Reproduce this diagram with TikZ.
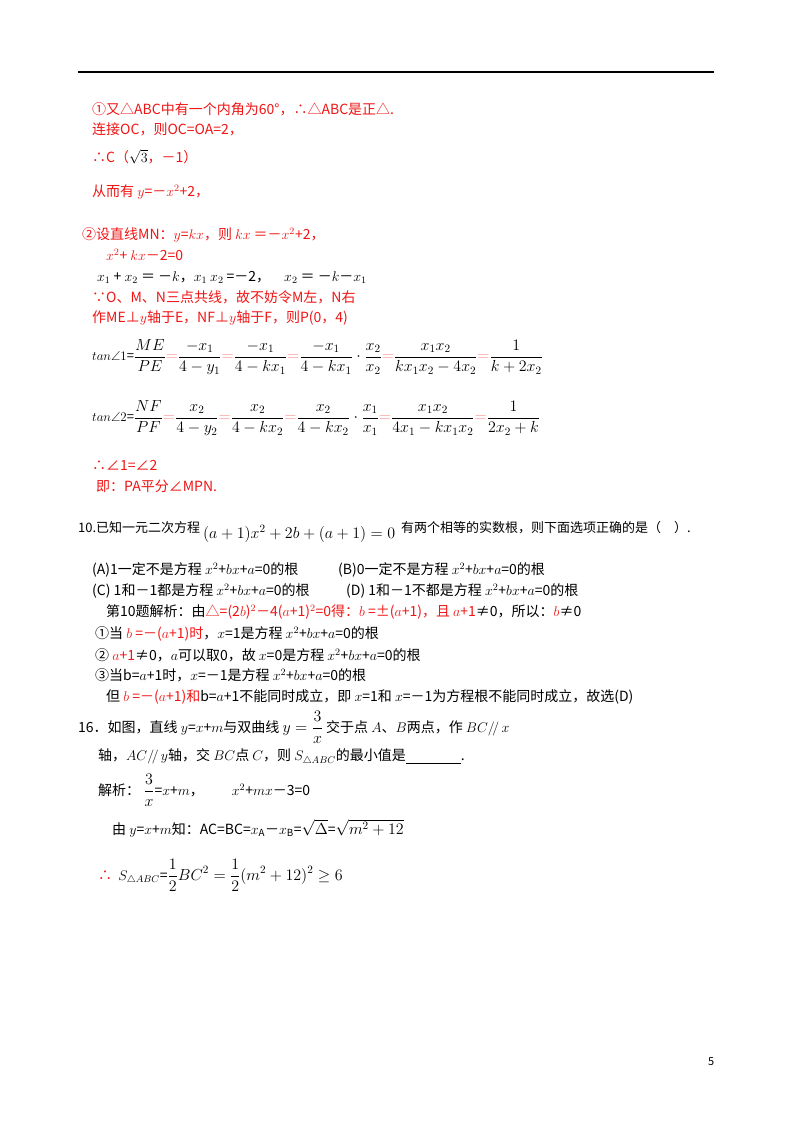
\RequirePackage{fix-cm}
\documentclass[tikz,border=0pt]{standalone}
\usepackage{amsmath,amssymb}
\usepackage{fontspec}
\setmainfont{Noto Sans CJK SC}
\definecolor{rd}{RGB}{240,20,20}
\definecolor{pk}{RGB}{250,140,140}
\begin{document}
\begin{tikzpicture}[x=1pt,y=-1pt,
  t/.style={anchor=west,inner sep=0pt,font=\fontsize{14}{16}\selectfont},
  r/.style={t,text=rd},
  big/.style={anchor=west,inner sep=0pt,font=\fontsize{16}{18}\selectfont}]
\useasboundingbox (0,0) rectangle (800,1132);
\draw[line width=1.2pt] (78,72) coordinate(l1) -- (714,72) coordinate(l2);
\node[r] (a1) at (92,109) {①又△ABC中有一个内角为60°，∴△ABC是正△.};
\node[r] (a2) at (92,129) {连接OC，则OC=OA=2，};
\node[r] (a3) at (92,157) {∴C（\textcolor{black}{$\sqrt{3}$}，－1）};
\node[r] (a4) at (92,192) {从而有 $y$=－$x^2$+2，};
\node[r] (a5) at (82,235) {②设直线MN：$y$=$kx$，则 $kx$ ＝－$x^2$+2，};
\node[r] (a6) at (106,255) {$x^2$+ $kx$－2=0};
\node[t] (a7) at (97,277) {$x_1$ + $x_2$ ＝ －$k$，$x_1$ $x_2$ =－2，\quad $x_2$ ＝ －$k$－$x_1$};
\node[r] (a8) at (92,297) {∵O、M、N三点共线，故不妨令M左，N右};
\node[r] (a9) at (92,318) {作ME⊥$y$轴于E，NF⊥$y$轴于F，则P(0，4)};
\node[big] (f1) at (92,357) {{\fontsize{13}{15}\selectfont $tan\angle 1$=}$\displaystyle\frac{ME}{PE}\textcolor{pk}{=}\frac{-x_1}{4-y_1}\textcolor{pk}{=}\frac{-x_1}{4-kx_1}\textcolor{pk}{=}\frac{-x_1}{4-kx_1}\cdot\frac{x_2}{x_2}\textcolor{pk}{=}\frac{x_1x_2}{kx_1x_2-4x_2}\textcolor{pk}{=}\frac{1}{k+2x_2}$};
\node[big] (f2) at (92,418) {{\fontsize{13}{15}\selectfont $tan\angle 2$=}$\displaystyle\frac{NF}{PF}\textcolor{pk}{=}\frac{x_2}{4-y_2}\textcolor{pk}{=}\frac{x_2}{4-kx_2}\textcolor{pk}{=}\frac{x_2}{4-kx_2}\cdot\frac{x_1}{x_1}\textcolor{pk}{=}\frac{x_1x_2}{4x_1-kx_1x_2}\textcolor{pk}{=}\frac{1}{2x_2+k}$};
\node[r] (a10) at (92,465) {∴∠1=∠2};
\node[r] (a11) at (96,486) {即：PA平分∠MPN.};
\node[t,font=\fontsize{13}{15}\selectfont] (q10) at (78,532) {10.已知一元二次方程 \raisebox{-6pt}{\fontsize{16}{18}\selectfont$(a+1)x^2+2b+(a+1)=0$}\ \ 有两个相等的实数根，则下面选项正确的是（\quad ）.};
\node[t] (qa) at (92,570) {(A)1一定不是方程 $x^2$+$bx$+$a$=0的根};
\node[t] (qb) at (338,570) {(B)0一定不是方程 $x^2$+$bx$+$a$=0的根};
\node[t] (qc) at (92,591) {(C) 1和－1都是方程 $x^2$+$bx$+$a$=0的根};
\node[t] (qd) at (346,591) {(D) 1和－1不都是方程 $x^2$+$bx$+$a$=0的根};
\node[t] (s0) at (106,612) {第10题解析：由\textcolor{rd}{△=(2$b$)$^2$－4($a$+1)$^2$=0得：$b$ =±($a$+1)，且 $a$+1}≠0，所以：\textcolor{rd}{$b$}≠0};
\node[t] (s1) at (95,634) {①当 \textcolor{rd}{$b$ =－($a$+1)时}，$x$=1是方程 $x^2$+$bx$+$a$=0的根};
\node[t] (s2) at (95,655) {② \textcolor{rd}{$a$+1}≠0，$a$可以取0，故 $x$=0是方程 $x^2$+$bx$+$a$=0的根};
\node[t] (s3) at (95,675) {③当b=$a$+1时，$x$=－1是方程 $x^2$+$bx$+$a$=0的根};
\node[t] (s4) at (106,697) {但 \textcolor{rd}{$b$ =－($a$+1)和}b=$a$+1不能同时成立，即 $x$=1和 $x$=－1为方程根不能同时成立，故选(D)};
\node[t] (q16) at (78,727) {16．如图，直线 $y$=$x$+$m$与双曲线 {\fontsize{16}{18}\selectfont$\displaystyle y=\frac{3}{x}$} 交于点 $A$、$B$两点，作 $BC/\!/\,x$};
\node[t] (q16b) at (98,757) {轴，$AC/\!/\,y$轴，交 $BC$点 $C$，则 $S_{\triangle ABC}$的最小值是\underline{\hspace{55pt}}.};
\node[t] (j1) at (98,790) {解析：\ {\fontsize{16}{18}\selectfont$\displaystyle\frac{3}{x}$}=$x$+$m$，\qquad $x^2$+$mx$－3=0};
\node[t] (j2) at (112,828) {由 $y$=$x$+$m$知：AC=BC=$x_{\mathrm A}$－$x_{\mathrm B}$={\fontsize{16}{18}\selectfont$\sqrt{\Delta}$}={\fontsize{16}{18}\selectfont$\sqrt{m^2+12}$}};
\node[t] (j3) at (98,875) {\textcolor{rd}{∴}\ \ $S_{\triangle ABC}$={\fontsize{16}{18}\selectfont$\displaystyle\frac12 BC^2=\frac12(m^2+12)^2\ge 6$}};
\node[t,font=\fontsize{11}{13}\selectfont] (pg) at (708,1062) {5};
\end{tikzpicture}
\end{document}
